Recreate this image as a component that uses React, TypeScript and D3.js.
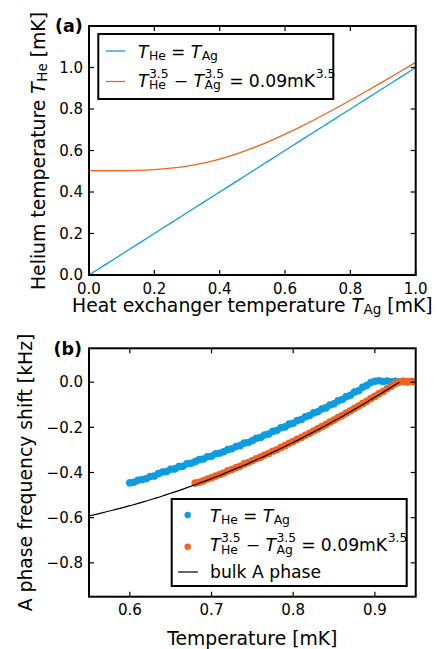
import React from 'react';
import * as d3 from 'd3';

const W = 437;
const H = 649;
const FONT_NAME = 'DejaVu Sans';
const BLUE = '#0e9ddc';
const ORANGE = '#f0641e';

// ---------- panel (a): helium vs heat exchanger temperature ----------
const exchangerTemps = [0, 0.05, 0.1, 0.15, 0.2, 0.25, 0.3, 0.35, 0.4, 0.45, 0.5, 0.55, 0.6, 0.65, 0.7, 0.75, 0.8, 0.85, 0.9, 0.95, 1.0];
const heliumEqualTemps = [0, 0.05, 0.1, 0.15, 0.2, 0.25, 0.3, 0.35, 0.4, 0.45, 0.5, 0.55, 0.6, 0.65, 0.7, 0.75, 0.8, 0.85, 0.9, 0.95, 1.0];
const heliumGapTemps = [0.5026, 0.5027, 0.5031, 0.5046, 0.5082, 0.5147, 0.5249, 0.5395, 0.5589, 0.5828, 0.6111, 0.6432, 0.6785, 0.7165, 0.7567, 0.7987, 0.8421, 0.8866, 0.932, 0.9782, 1.0249];
const aTicksX = [0, 0.2, 0.4, 0.6, 0.8, 1.0];
const aTicksY = [0, 0.2, 0.4, 0.6, 0.8, 1.0];

// ---------- panel (b): A phase frequency shift vs temperature ----------
const blueShift: [number, number][] = [
  [0.600, -0.446], [0.605, -0.443], [0.610, -0.434], [0.615, -0.431], [0.620, -0.428],
  [0.625, -0.418], [0.630, -0.416], [0.635, -0.405], [0.640, -0.398], [0.645, -0.396],
  [0.650, -0.386], [0.655, -0.384], [0.660, -0.374], [0.665, -0.372], [0.670, -0.361],
  [0.675, -0.359], [0.680, -0.352], [0.685, -0.343], [0.690, -0.340], [0.695, -0.330],
  [0.700, -0.328], [0.705, -0.317], [0.710, -0.315], [0.715, -0.308], [0.720, -0.298],
  [0.725, -0.295], [0.730, -0.285], [0.735, -0.281], [0.740, -0.270], [0.745, -0.267],
  [0.750, -0.259], [0.755, -0.248], [0.760, -0.245], [0.765, -0.234], [0.770, -0.230],
  [0.775, -0.218], [0.780, -0.214], [0.785, -0.202], [0.790, -0.198], [0.795, -0.186],
  [0.800, -0.182], [0.805, -0.170], [0.810, -0.165], [0.815, -0.153], [0.820, -0.148],
  [0.825, -0.136], [0.830, -0.131], [0.835, -0.119], [0.840, -0.114], [0.845, -0.101],
  [0.850, -0.096], [0.855, -0.083], [0.860, -0.077], [0.865, -0.064], [0.870, -0.058],
  [0.875, -0.044], [0.880, -0.038], [0.885, -0.023], [0.890, -0.015], [0.895, -0.002],
  [0.900, 0.004], [0.905, 0.006], [0.910, 0.003], [0.915, 0.005], [0.920, 0.002],
  [0.925, 0.004], [0.930, 0.002], [0.935, 0.003], [0.940, 0.001], [0.945, 0.003],
];

const orangeShift: [number, number][] = [
  [0.680, -0.447], [0.685, -0.443], [0.690, -0.437], [0.695, -0.429], [0.700, -0.423],
  [0.705, -0.416], [0.710, -0.409], [0.715, -0.402], [0.720, -0.393], [0.725, -0.387],
  [0.730, -0.379], [0.735, -0.372], [0.740, -0.362], [0.745, -0.356], [0.750, -0.348],
  [0.755, -0.339], [0.760, -0.332], [0.765, -0.323], [0.770, -0.316], [0.775, -0.306],
  [0.780, -0.299], [0.785, -0.289], [0.790, -0.281], [0.795, -0.271], [0.800, -0.263],
  [0.805, -0.253], [0.810, -0.245], [0.815, -0.235], [0.820, -0.226], [0.825, -0.216],
  [0.830, -0.207], [0.835, -0.197], [0.840, -0.188], [0.845, -0.177], [0.850, -0.168],
  [0.855, -0.157], [0.860, -0.148], [0.865, -0.137], [0.870, -0.127], [0.875, -0.116],
  [0.880, -0.106], [0.885, -0.095], [0.890, -0.085], [0.895, -0.073], [0.900, -0.063],
  [0.905, -0.051], [0.910, -0.041], [0.915, -0.029], [0.920, -0.018], [0.925, -0.007],
  [0.930, 0.001], [0.935, 0.004], [0.940, 0.003], [0.945, 0.003], [0.948, 0.002],
];

const bulkTemps = [0.55, 0.56, 0.57, 0.58, 0.59, 0.60, 0.61, 0.62, 0.63, 0.64, 0.65, 0.66, 0.67, 0.68, 0.69, 0.70, 0.71, 0.72, 0.73, 0.74, 0.75, 0.76, 0.77, 0.78, 0.79, 0.80, 0.81, 0.82, 0.83, 0.84, 0.85, 0.86, 0.87, 0.88, 0.89, 0.90, 0.91, 0.92, 0.93];
const bulkShift = [-0.592, -0.584, -0.575, -0.566, -0.557, -0.547, -0.537, -0.526, -0.515, -0.504, -0.492, -0.480, -0.467, -0.454, -0.441, -0.427, -0.413, -0.398, -0.383, -0.368, -0.352, -0.336, -0.319, -0.302, -0.285, -0.267, -0.249, -0.230, -0.211, -0.192, -0.172, -0.152, -0.131, -0.110, -0.089, -0.067, -0.045, -0.022, 0.0];
const bTicksX = [0.6, 0.7, 0.8, 0.9];
const bTicksY = [0.0, -0.2, -0.4, -0.6, -0.8];

// ---------- text labels (math-style segments) ----------
type Seg = { s?: string; it?: boolean; op?: string; sup?: string; sub?: string };

const labelTHeEqual: Seg[] = [{ s: 'T', it: true }, { sub: 'He' }, { op: '=' }, { s: 'T', it: true }, { sub: 'Ag' }];
const labelTHeGap: Seg[] = [
  { s: 'T', it: true }, { sup: '3.5', sub: 'He' }, { op: '\u2212' },
  { s: 'T', it: true }, { sup: '3.5', sub: 'Ag' }, { op: '=' },
  { s: '0.09mK' }, { sup: '3.5' },
];
const labelBulk: Seg[] = [{ s: 'bulk A phase' }];
const aXLabel: Seg[] = [{ s: 'Heat exchanger temperature ' }, { s: 'T', it: true }, { sub: 'Ag' }, { s: ' [mK]' }];
const aYLabel: Seg[] = [{ s: 'Helium temperature ' }, { s: 'T', it: true }, { sub: 'He' }, { s: ' [mK]' }];
const bXLabel: Seg[] = [{ s: 'Temperature [mK]' }];
const bYLabel: Seg[] = [{ s: 'A phase frequency shift [kHz]' }];

let measureCtx: CanvasRenderingContext2D | null = null;
function measure(text: string, size: number, italic = false): number {
  if (!measureCtx) measureCtx = document.createElement('canvas').getContext('2d');
  if (!measureCtx) return text.length * size * 0.6;
  measureCtx.font = `${italic ? 'italic ' : ''}${size}px "${FONT_NAME}"`;
  return measureCtx.measureText(text).width;
}

type Item = { s: string; x: number; dy: number; size: number; it: boolean };
function layout(segs: Seg[], size: number) {
  const small = size * 0.72;
  const items: Item[] = [];
  let x = 0;
  for (const g of segs) {
    if (g.op !== undefined) {
      const pad = size * 0.3;
      x += pad;
      items.push({ s: g.op, x, dy: 0, size, it: false });
      x += measure(g.op, size) + pad;
    } else if (g.sup !== undefined || g.sub !== undefined) {
      const both = g.sup !== undefined && g.sub !== undefined;
      let w = 0;
      x += size * 0.03;
      if (g.sup !== undefined) {
        items.push({ s: g.sup, x, dy: -size * 0.5, size: small, it: false });
        w = Math.max(w, measure(g.sup, small));
      }
      if (g.sub !== undefined) {
        items.push({ s: g.sub, x, dy: size * (both ? 0.17 : 0.12), size: small, it: false });
        w = Math.max(w, measure(g.sub, small));
      }
      x += w;
    } else if (g.s !== undefined) {
      items.push({ s: g.s, x, dy: 0, size, it: !!g.it });
      x += measure(g.s, size, !!g.it);
    }
  }
  return { items, width: x };
}

// One <text> element per label, each piece placed as an absolutely positioned tspan.
function MathText({ segs, x, y, size, anchor = 'start' }: { segs: Seg[]; x: number; y: number; size: number; anchor?: 'start' | 'middle' }) {
  const { items, width } = layout(segs, size);
  const x0 = anchor === 'middle' ? x - width / 2 : x;
  return (
    <text fontFamily={FONT_NAME} fill="#000" style={{ whiteSpace: 'pre' }}>
      {items.map((it, i) => (
        <tspan key={i} x={x0 + it.x} y={y + it.dy} fontSize={it.size} fontStyle={it.it ? 'italic' : 'normal'}>{it.s}</tspan>
      ))}
    </text>
  );
}

// ---------- layout of the two panels ----------
const LEFT = 89;
const RIGHT = 415.7;
const A_TOP = 26;
const A_BOTTOM = 275;
const B_TOP = 348.3;
const B_BOTTOM = 596.7;
const TICK_LEN = 5;
const TICK_FONT = 15;
const LABEL_FONT = 18.8;
const LEGEND_FONT = 17.2;

const xA = d3.scaleLinear().domain([0, 1]).range([LEFT, RIGHT]);
const yA = d3.scaleLinear().domain([0, 1.2]).range([A_BOTTOM, A_TOP]);
const xB = d3.scaleLinear().domain([0.55, 0.95]).range([LEFT, RIGHT]);
const yB = d3.scaleLinear().domain([-0.95, 0.15]).range([B_BOTTOM, B_TOP]);
const fmt = d3.format('.1f');

function Frame({ top, bottom, xs, ys, xScale, yScale }: {
  top: number; bottom: number; xs: number[]; ys: number[];
  xScale: d3.ScaleLinear<number, number>; yScale: d3.ScaleLinear<number, number>;
}) {
  return (
    <g>
      {xs.map((v) => (
        <g key={'x' + v}>
          <line x1={xScale(v)} x2={xScale(v)} y1={bottom} y2={bottom - TICK_LEN} stroke="#000" strokeWidth={1.2} />
          <line x1={xScale(v)} x2={xScale(v)} y1={top} y2={top + TICK_LEN} stroke="#000" strokeWidth={1.2} />
          <text x={xScale(v)} y={bottom + 18.5} fontSize={TICK_FONT} fontFamily={FONT_NAME} textAnchor="middle">{fmt(v)}</text>
        </g>
      ))}
      {ys.map((v) => (
        <g key={'y' + v}>
          <line x1={LEFT} x2={LEFT + TICK_LEN} y1={yScale(v)} y2={yScale(v)} stroke="#000" strokeWidth={1.2} />
          <line x1={RIGHT} x2={RIGHT - TICK_LEN} y1={yScale(v)} y2={yScale(v)} stroke="#000" strokeWidth={1.2} />
          <text x={LEFT - 6} y={yScale(v) + 5.3} fontSize={TICK_FONT} fontFamily={FONT_NAME} textAnchor="end">{fmt(v)}</text>
        </g>
      ))}
      <rect x={LEFT} y={top} width={RIGHT - LEFT} height={bottom - top} fill="none" stroke="#000" strokeWidth={2} />
    </g>
  );
}

export default function App() {
  const lineA = d3.line<number>()
    .x((_, i) => xA(exchangerTemps[i]))
    .curve(d3.curveNatural);
  const equalPath = lineA.y((v) => yA(v))(heliumEqualTemps) || '';
  const gapPath = lineA.y((v) => yA(v))(heliumGapTemps) || '';

  const bulkPath = d3.line<number>()
    .x((_, i) => xB(bulkTemps[i]))
    .y((v) => yB(v))
    .curve(d3.curveNatural)(bulkShift) || '';

  const r = 3.8;

  return (
    <svg width={W} height={H} style={{ position: 'absolute', left: 0, top: 0, background: '#fff' }}
      xmlns="http://www.w3.org/2000/svg">
      <rect width={W} height={H} fill="#fff" />
      <defs>
        <clipPath id="clipA"><rect x={LEFT} y={A_TOP} width={RIGHT - LEFT} height={A_BOTTOM - A_TOP} /></clipPath>
        <clipPath id="clipB"><rect x={LEFT} y={B_TOP} width={RIGHT - LEFT} height={B_BOTTOM - B_TOP} /></clipPath>
      </defs>

      {/* panel (a) */}
      <g clipPath="url(#clipA)">
        <path d={equalPath} fill="none" stroke={BLUE} strokeWidth={1.3} />
        <path d={gapPath} fill="none" stroke={ORANGE} strokeWidth={1.3} />
      </g>
      <Frame top={A_TOP} bottom={A_BOTTOM} xs={aTicksX} ys={aTicksY} xScale={xA} yScale={yA} />
      <text x={55} y={31.5} fontSize={17.5} fontWeight="bold" fontFamily={FONT_NAME}>(a)</text>

      <g>
        <rect x={98.3} y={34} width={235} height={65} fill="#fff" stroke="#000" strokeWidth={2} />
        <line x1={106} x2={125} y1={51} y2={51} stroke={BLUE} strokeWidth={1.3} />
        <MathText segs={labelTHeEqual} x={138} y={57.5} size={LEGEND_FONT} />
        <line x1={106} x2={125} y1={81.5} y2={81.5} stroke={ORANGE} strokeWidth={1.3} />
        <MathText segs={labelTHeGap} x={138} y={86.5} size={LEGEND_FONT} />
      </g>

      <MathText segs={aXLabel} x={(LEFT + RIGHT) / 2} y={311.5} size={LABEL_FONT} anchor="middle" />
      <g transform={`translate(45, ${(A_TOP + A_BOTTOM) / 2 + 0.5}) rotate(-90)`}>
        <MathText segs={aYLabel} x={0} y={0} size={LABEL_FONT} anchor="middle" />
      </g>

      {/* panel (b) */}
      <g clipPath="url(#clipB)">
        {blueShift.map(([t, v], i) => (
          <circle key={'b' + i} cx={xB(t)} cy={yB(v)} r={r} fill={BLUE} />
        ))}
        {orangeShift.map(([t, v], i) => (
          <circle key={'o' + i} cx={xB(t)} cy={yB(v)} r={r} fill={ORANGE} />
        ))}
        <path d={bulkPath} fill="none" stroke="#000" strokeWidth={1.2} />
      </g>
      <Frame top={B_TOP} bottom={B_BOTTOM} xs={bTicksX} ys={bTicksY} xScale={xB} yScale={yB} />
      <text x={53.5} y={355} fontSize={17.5} fontWeight="bold" fontFamily={FONT_NAME}>(b)</text>

      <g>
        <rect x={171.7} y={499} width={235} height={87} fill="#fff" stroke="#000" strokeWidth={2} />
        <circle cx={187.7} cy={515} r={3.2} fill={BLUE} />
        <MathText segs={labelTHeEqual} x={210} y={521.7} size={LEGEND_FONT} />
        <circle cx={187.7} cy={546.7} r={3.2} fill={ORANGE} />
        <MathText segs={labelTHeGap} x={210} y={551} size={LEGEND_FONT} />
        <line x1={178} x2={198} y1={572} y2={572} stroke="#000" strokeWidth={1.2} />
        <MathText segs={labelBulk} x={210} y={578.3} size={LEGEND_FONT} />
      </g>

      <MathText segs={bXLabel} x={(LEFT + RIGHT) / 2} y={645} size={LABEL_FONT} anchor="middle" />
      <g transform={`translate(31.5, ${(B_TOP + B_BOTTOM) / 2}) rotate(-90)`}>
        <MathText segs={bYLabel} x={0} y={0} size={LABEL_FONT} anchor="middle" />
      </g>
    </svg>
  );
}
